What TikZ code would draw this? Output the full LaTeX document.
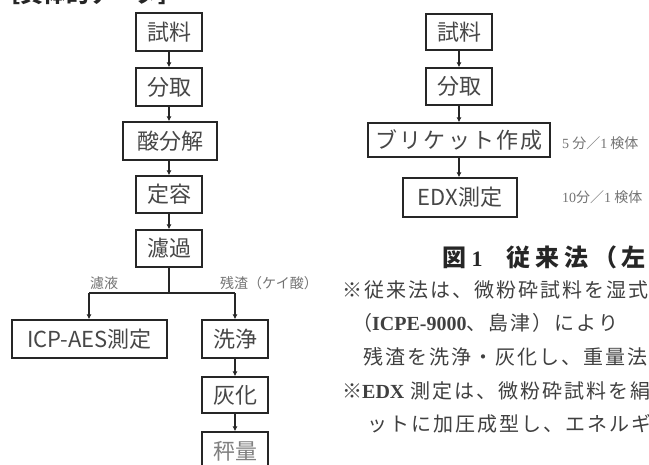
\documentclass[tikz,border=0pt]{standalone}
\usepackage{fontspec}
\newfontfamily\jp{Noto Sans CJK JP}
\newfontfamily\jpcap{Noto Sans CJK JP}[LetterSpace=20]
\newfontfamily\jpbody{Noto Sans CJK JP}[LetterSpace=10]
\newfontfamily\ser{Liberation Serif}
\usetikzlibrary{arrows.meta}
\tikzset{
  box/.style={draw=black!85, line width=1.3pt, fill=white, inner sep=0pt,
    font=\jp\fontsize{22}{22}\selectfont, text=black!72, minimum height=38pt, minimum width=66pt},
  arr/.style={-{Latex[length=5pt,width=5pt]}, line width=1.1pt, draw=black!85},
  ln/.style={line width=1.1pt, draw=black!85},
  lab/.style={font=\jp\fontsize{14}{14}\selectfont, text=black!55, anchor=west, inner sep=0pt},
  note/.style={font=\jp\fontsize{14}{14}\selectfont, text=black!55, anchor=west, inner sep=0pt},
  body/.style={font=\jpbody\fontsize{20}{20}\selectfont, text=black!75, anchor=west, inner sep=0pt},
  captext/.style={font=\jpcap\bfseries\fontsize{24}{24}\selectfont, text=black!85, anchor=west, inner sep=0pt},
}
\begin{document}
\begin{tikzpicture}[x=1pt,y=-1pt]
\useasboundingbox (0,0) rectangle (649,464);
\clip (0,0) rectangle (649,464);
% cut-off header
\node[anchor=base west, inner sep=0pt, font=\jp\bfseries\fontsize{23}{23}\selectfont, text=black!85] (hdr) at (-3,2.5) {［具体的データ］};
% left flow
\node[box] (s1) at (169,32) {試料};
\node[box] (s2) at (169,87) {分取};
\node[box, minimum width=94pt] (s3) at (170,141) {酸分解};
\node[box, minimum height=37pt] (s4) at (169,194.5) {定容};
\node[box, minimum height=37pt] (s5) at (169,248.5) {濾過};
\draw[arr] (s1) -- (s2);
\draw[arr] (s2) -- (s3.north -| s2);
\draw[arr] (s3.south -| s2) -- (s4);
\draw[arr] (s4) -- (s5);
\coordinate (b) at (169,293);
\coordinate (bl) at (89,293);
\coordinate (br) at (235,293);
\node[box, minimum width=155pt] (icp) at (89.5,339) {ICP-AES測定};
\node[box] (wash) at (235,339) {洗浄};
\node[box, minimum height=36pt] (ash) at (235,395) {灰化};
\node[box, text=black!50] (wt) at (235,451) {秤量};
\draw[ln] (s5) -- (b);
\draw[ln] (bl) -- (br);
\draw[arr] (bl) -- (bl |- icp.north);
\draw[arr] (br) -- (wash);
\draw[arr] (wash) -- (ash);
\draw[arr] (ash) -- (wt);
\node[lab] (l1) at (90,283) {濾液};
\node[lab] (l2) at (220,283) {残渣（ケイ酸）};
% right flow
\node[box, minimum height=36pt] (r1) at (459,32) {試料};
\node[box, minimum height=37pt] (r2) at (459,86.5) {分取};
\node[box, minimum width=182pt, minimum height=34pt, font=\jpbody\fontsize{22}{22}\selectfont] (r3) at (459,140) {ブリケット作成};
\node[box, minimum width=114pt, minimum height=39pt] (r4) at (460,197.5) {EDX測定};
\draw[arr] (r1) -- (r2);
\draw[arr] (r2) -- (r3);
\draw[arr] (r3) -- (r4.north -| r3);
\node[note] (n1) at (562,143) {{\ser 5} 分／{\ser 1} 検体};
\node[note] (n2) at (562,197) {{\ser 10}分／{\ser 1} 検体};
% caption and notes
\node[captext] (c) at (442,257) {図{\ser\bfseries\fontsize{22}{22}\selectfont\ 1}\hspace{24pt}従来法（左）};
\node[body] (t1) at (342,290) {※従来法は、微粉砕試料を湿式};
\node[body] (t2) at (352,323) {（{\ser\bfseries ICPE-9000}、島津）により};
\node[body] (t3) at (363,357) {残渣を洗浄・灰化し、重量法};
\node[body] (t4) at (342,391) {※{\ser\bfseries EDX} 測定は、微粉砕試料を絹};
\node[body] (t5) at (367,424) {ットに加圧成型し、エネルギ};
\end{tikzpicture}
\end{document}
